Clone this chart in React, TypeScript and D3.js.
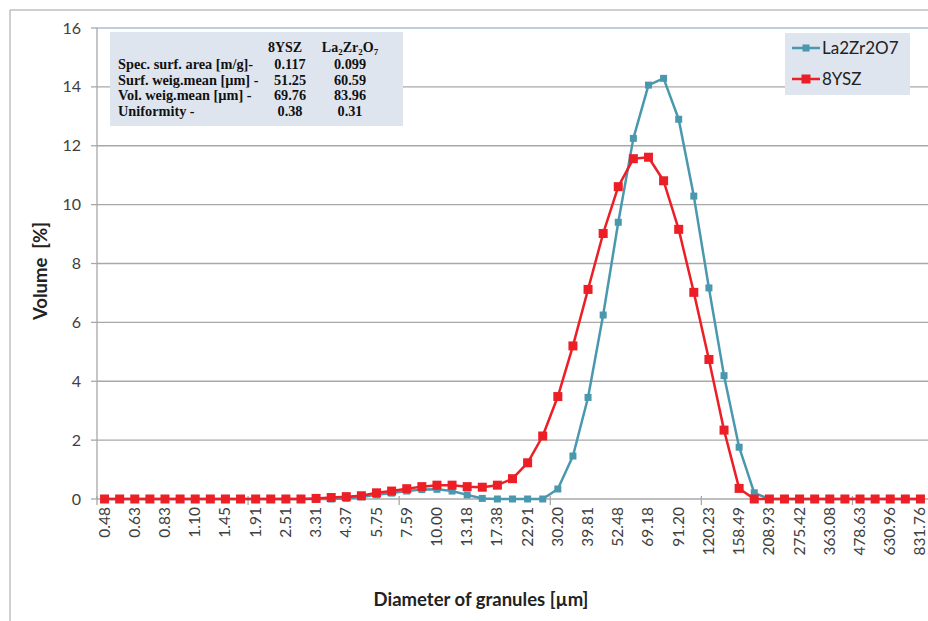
import React from "react";
import * as d3 from "d3";

const categories = [
  "0.48","0.55","0.63","0.72","0.83","0.95","1.10","1.26","1.45","1.66",
  "1.91","2.19","2.51","2.88","3.31","3.80","4.37","5.01","5.75","6.61",
  "7.59","8.71","10.00","11.48","13.18","15.14","17.38","19.95","22.91","26.30",
  "30.20","34.67","39.81","45.71","52.48","60.26","69.18","79.43","91.20","104.71",
  "120.23","138.04","158.49","181.97","208.93","239.88","275.42","316.23","363.08","416.87",
  "478.63","549.54","630.96","724.44","831.76",
];

const la2zr2o7 = [
  0,0,0,0,0,0,0,0,0,0,
  0,0,0,0,0,0,0.02,0.07,0.14,0.2,
  0.27,0.32,0.33,0.27,0.14,0.02,0,0,0,0,
  0.34,1.46,3.45,6.25,9.4,12.25,14.06,14.29,12.9,10.29,
  7.17,4.19,1.76,0.21,0,0,0,0,0,0,
  0,0,0,0,0,
];

const ysz8 = [
  0,0,0,0,0,0,0,0,0,0,
  0,0,0,0,0.02,0.05,0.08,0.11,0.21,0.27,
  0.35,0.42,0.47,0.47,0.42,0.4,0.47,0.69,1.23,2.14,
  3.48,5.2,7.12,9.02,10.61,11.56,11.61,10.81,9.16,7.02,
  4.74,2.34,0.36,0,0,0,0,0,0,0,
  0,0,0,0,0,
];

const yTicks = [0, 2, 4, 6, 8, 10, 12, 14, 16];

const tableHeader = ["8YSZ", "La2Zr2O7"];
const tableRows = [
  "Spec. surf. area [m/g]-",
  "Surf. weig.mean [\u00b5m] -",
  "Vol. weig.mean [\u00b5m] -",
  "Uniformity -",
];
const tableYsz = ["0.117", "51.25", "69.76", "0.38"];
const tableLa = ["0.099", "60.59", "83.96", "0.31"];

const seriesNames = ["La2Zr2O7", "8YSZ"];

const BLUE = "#4a98ae";
const RED = "#ec1f27";
const GRID = "#a8a8a8";
const FONT = "Lato, 'Open Sans', sans-serif";
const SERIF = "'Liberation Serif', 'Times New Roman', serif";

export default function App() {
  const W = 928, H = 621;
  const x = d3.scaleBand<string>().domain(categories).range([97, 928]).padding(0);
  const y = d3.scaleLinear().domain([0, 16]).range([499, 28]);
  const cx = (i: number) => (x(categories[i]) as number) + x.bandwidth() / 2;

  const line = d3.line<number>().x((_, i) => cx(i)).y((d) => y(d));

  const boundaryTicks = d3.range(0, categories.length + 1, 10);

  return (
    <svg width={W} height={H} style={{ position: "absolute", left: 0, top: 0, background: "#fff" }}>
      {/* outer border */}
      <line x1={10} y1={10} x2={W} y2={10} stroke="#a0a0a0" strokeWidth={1} />
      <line x1={10} y1={10} x2={10} y2={H} stroke="#a0a0a0" strokeWidth={1} />

      {/* gridlines */}
      {yTicks.map((t) => (
        <line key={t} x1={97} x2={928} y1={y(t)} y2={y(t)}
          stroke={t === 16 ? "#a9bcd6" : GRID} strokeWidth={1.3} />
      ))}

      {/* y axis */}
      <line x1={97} x2={97} y1={y(16)} y2={y(0)} stroke={GRID} strokeWidth={1.3} />
      {yTicks.map((t) => (
        <g key={"yt" + t}>
          <line x1={91} x2={97} y1={y(t)} y2={y(t)} stroke={GRID} strokeWidth={1.3} />
          <text x={81} y={y(t)} dy="0.35em" textAnchor="end" fontFamily={FONT} fontSize={16} fill="#404040">{t}</text>
        </g>
      ))}

      {/* x axis ticks */}
      {boundaryTicks.map((b) => {
        const xx = 97 + b * x.bandwidth();
        return <line key={"xt" + b} x1={xx} x2={xx} y1={y(0) - 3} y2={y(0) + 6} stroke={GRID} strokeWidth={1.3} />;
      })}

      {/* x labels */}
      {categories.map((c, i) =>
        i % 2 === 0 ? (
          <text key={"xl" + i} transform={`translate(${cx(i) + 5},${507}) rotate(-90)`}
            textAnchor="end" fontFamily={FONT} fontSize={15.5} fill="#404040">{c}</text>
        ) : null
      )}

      {/* series La2Zr2O7 */}
      <path d={line(la2zr2o7) || ""} fill="none" stroke={BLUE} strokeWidth={2.5} strokeLinejoin="round" />
      {la2zr2o7.map((v, i) => (
        <rect key={"b" + i} x={cx(i) - 3.5} y={y(v) - 3.5} width={7} height={7} fill={BLUE} />
      ))}

      {/* series 8YSZ */}
      <path d={line(ysz8) || ""} fill="none" stroke={RED} strokeWidth={2.5} strokeLinejoin="round" />
      {ysz8.map((v, i) => (
        <rect key={"r" + i} x={cx(i) - 4.5} y={y(v) - 4.5} width={9} height={9} fill={RED} />
      ))}

      {/* axis titles */}
      <text transform={`translate(47,271) rotate(-90)`} textAnchor="middle" fontFamily={FONT}
        fontWeight="bold" fontSize={18.5} fill="#222" style={{ whiteSpace: "pre" }}>{"Volume  [%]"}</text>
      <text x={481} y={606} textAnchor="middle" fontFamily={FONT} fontWeight="bold" fontSize={18.5} fill="#222">
        Diameter of granules [µm]
      </text>

      {/* table box */}
      <rect x={110} y={32} width={293} height={94} fill="#dfe5ef" />
      <text x={285} y={52} textAnchor="middle" fontFamily={SERIF} fontWeight="bold" fontSize={14} fill="#111">{tableHeader[0]}</text>
      <text x={350} y={52} textAnchor="middle" fontFamily={SERIF} fontWeight="bold" fontSize={14} fill="#111">
        La<tspan fontSize={9} dy={3}>2</tspan><tspan dy={-3}>Zr</tspan><tspan fontSize={9} dy={3}>2</tspan><tspan dy={-3}>O</tspan><tspan fontSize={9} dy={3}>7</tspan>
      </text>
      {tableRows.map((r, i) => (
        <g key={"tr" + i}>
          <text x={118} y={69 + i * 15.7} fontFamily={SERIF} fontWeight="bold" fontSize={14.3} fill="#111">{r}</text>
          <text x={290} y={69 + i * 15.7} textAnchor="middle" fontFamily={SERIF} fontWeight="bold" fontSize={14.3} fill="#111">{tableYsz[i]}</text>
          <text x={350} y={69 + i * 15.7} textAnchor="middle" fontFamily={SERIF} fontWeight="bold" fontSize={14.3} fill="#111">{tableLa[i]}</text>
        </g>
      ))}

      {/* legend */}
      <rect x={785} y={33} width={125} height={62} fill="#dfe5ef" />
      {seriesNames.map((n, i) => {
        const ly = 48 + i * 31;
        const col = i === 0 ? BLUE : RED;
        const s = i === 0 ? 7 : 9;
        return (
          <g key={"lg" + i}>
            <line x1={792} x2={820} y1={ly} y2={ly} stroke={col} strokeWidth={2.5} />
            <rect x={806 - s / 2} y={ly - s / 2} width={s} height={s} fill={col} />
            <text x={822} y={ly} dy="0.35em" fontFamily={FONT} fontSize={17} fill="#222">{n}</text>
          </g>
        );
      })}
    </svg>
  );
}
